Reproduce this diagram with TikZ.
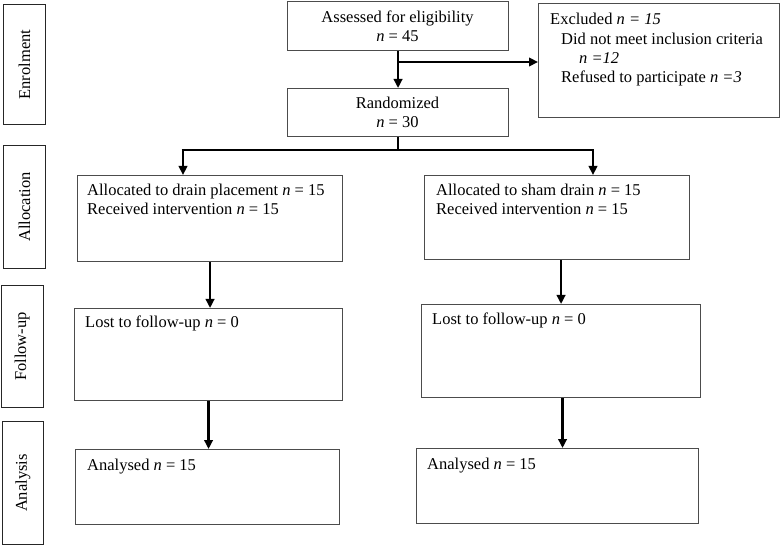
\documentclass[tikz,border=0pt]{standalone}
\usepackage{fontspec}
\setmainfont{Liberation Serif}
\usepackage{tikz}
\usetikzlibrary{arrows.meta}
\usetikzlibrary{positioning}
\definecolor{boxgray}{rgb}{0.3, 0.3, 0.3}

\begin{document}
\begin{tikzpicture}[x=1pt, y=-1pt,
    font=\fontsize{16.5}{19.4}\selectfont,
    box/.style={draw=boxgray, line width=1.1pt, anchor=north west, inner sep=0pt},
    side/.style={box, draw=black!85},
    txt/.style={anchor=base west, inner sep=0pt, align=left},
    arr/.style={line width=2.6pt, -{Triangle[length=9pt, width=8.5pt]}},
    link/.style={line width=2.6pt}]
    \useasboundingbox (0, 0) rectangle (782, 545);

    % stage labels on the left
    \node [side, minimum width=42pt, minimum height=120pt] (enrol) at (3, 4) {};
    \node [rotate=90] (enrol-t) at (enrol.center) {Enrolment};
    \node [side, minimum width=42pt, minimum height=123pt] (alloc) at (3, 145) {};
    \node [rotate=90] (alloc-t) at (alloc.center) {Allocation};
    \node [side, minimum width=42pt, minimum height=122pt] (follow) at (0.6, 285) {};
    \node [rotate=90] (follow-t) at (follow.center) {Follow-up};
    \node [side, minimum width=41pt, minimum height=123pt] (anal) at (2, 421) {};
    \node [rotate=90] (anal-t) at (anal.center) {Analysis};

    % enrolment (base anchor = last line)
    \node [box, minimum width=221pt, minimum height=49pt] (assess) at (287, 1) {};
    \node [anchor=base, inner sep=0pt, align=center] (assess-t) at (397.5, 41.2)
      {Assessed for eligibility\\[-1pt]\textit{n} = 45};
    \node [box, minimum width=241pt, minimum height=114pt] (excl) at (538, 3) {};
    \node [txt] (excl-t) at (550, 83)
      {Excluded \textit{n = 15}\\
       \hspace*{11pt}Did not meet inclusion criteria\\
       \hspace*{29pt}\textit{n =12}\\
       \hspace*{11pt}Refused to participate \textit{n =3}};
    \node [box, minimum width=221pt, minimum height=48pt] (rand) at (287, 88) {};
    \node [anchor=base, inner sep=0pt, align=center] (rand-t) at (397.5, 128)
      {Randomized\\\textit{n} = 30};

    % allocation
    \node [box, minimum width=265pt, minimum height=86pt] (drain) at (77, 175) {};
    \node [txt] (drain-t) at (87, 214.5)
      {Allocated to drain placement \textit{n} = 15\\Received intervention \textit{n} = 15};
    \node [box, minimum width=265pt, minimum height=84pt] (sham) at (424, 175) {};
    \node [txt] (sham-t) at (436, 214.5)
      {Allocated to sham drain \textit{n} = 15\\Received intervention \textit{n} = 15};

    % follow-up
    \node [box, minimum width=268pt, minimum height=92pt] (lostA) at (74, 308) {};
    \node [txt] (lostA-t) at (85, 328) {Lost to follow-up \textit{n} = 0};
    \node [box, minimum width=279pt, minimum height=93pt] (lostB) at (421, 304) {};
    \node [txt] (lostB-t) at (432, 325) {Lost to follow-up \textit{n} = 0};

    % analysis
    \node [box, minimum width=264pt, minimum height=75pt] (analA) at (75, 449) {};
    \node [txt] (analA-t) at (87, 470) {Analysed \textit{n} = 15};
    \node [box, minimum width=282pt, minimum height=75pt] (analB) at (416, 448) {};
    \node [txt] (analB-t) at (427, 469) {Analysed \textit{n} = 15};

    % arrows
    \coordinate (split) at (397.5, 62);
    \coordinate (forkL) at (183, 150);
    \coordinate (forkR) at (593, 150);
    \draw [arr] (assess.south) -- (rand.north);
    \draw [arr] (split) -- (split -| excl.west);
    \draw [link] (rand.south) -- (rand.south |- forkL);
    \draw [link] ([xshift=-1.3pt]forkL) -- ([xshift=1.3pt]forkR);
    \draw [arr] (forkL) -- (forkL |- drain.north);
    \draw [arr] (forkR) -- (forkR |- sham.north);
    \draw [arr] (drain.south) -- (drain.south |- lostA.north);
    \draw [arr] (lostB.north |- sham.south) -- (lostB.north);
    \draw [arr] (lostA.south) -- (lostA.south |- analA.north);
    \draw [arr] ([xshift=1.5pt]lostB.south) -- ([xshift=1.5pt]lostB.south |- analB.north);
\end{tikzpicture}
\end{document}
